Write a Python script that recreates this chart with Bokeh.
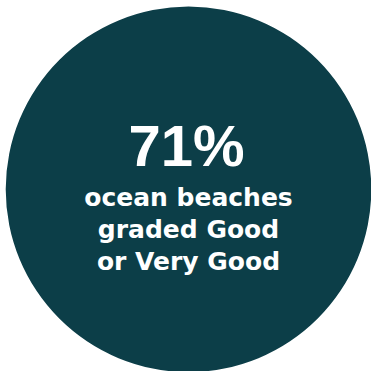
from bokeh.plotting import figure
from bokeh.models import Range1d, ColumnDataSource
from bokeh.core.properties import value
from bokeh.embed import file_html
from bokeh.resources import INLINE

# ---- data ----
share_pct = [71]
label_lines = ["ocean beaches", "graded Good", "or Very Good"]

# ---- layout / style ----
W, H = 371, 371
CX, CY, R = 188.0, 188.8, 182.8
FILL = "#0c3e48"
HEAD_X, HEAD_Y = 186.0, 145.0
LINE_YS = [197.2, 228.7, 260.5]

p = figure(width=W, height=H, output_backend="svg", toolbar_location=None,
           x_range=Range1d(0, W), y_range=Range1d(H, 0),
           x_axis_type=None, y_axis_type=None, min_border=0)
p.grid.visible = False
p.outline_line_color = None
p.background_fill_color = "white"
p.border_fill_color = "white"

p.circle(x=[CX], y=[CY], radius=R, fill_color=FILL, line_color=None)

head_src = ColumnDataSource(dict(x=[HEAD_X], y=[HEAD_Y], t=[f"{v}%" for v in share_pct]))
p.text(x="x", y="y", text="t", source=head_src, text_align="center",
       text_baseline="middle", text_font=value("Liberation Sans"),
       text_font_style="bold", text_font_size="58px", text_color="white")

line_src = ColumnDataSource(dict(x=[CX] * len(label_lines), y=LINE_YS, t=label_lines))
p.text(x="x", y="y", text="t", source=line_src, text_align="center",
       text_baseline="middle", text_font=value("DejaVu Sans"),
       text_font_style="bold", text_font_size="25px", text_color="white")

open("out.html", "w").write(file_html(p, INLINE))
